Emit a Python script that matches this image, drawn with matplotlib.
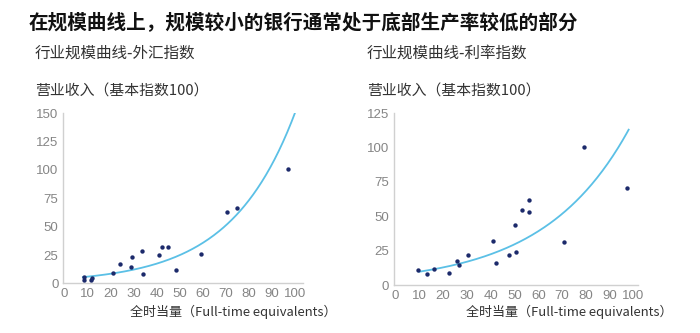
import numpy as np
import matplotlib
matplotlib.use("Agg")
import matplotlib.pyplot as plt

plt.rcParams['font.family'] = ['Noto Sans CJK SC', 'DejaVu Sans']
plt.rcParams['axes.unicode_minus'] = False

# 外汇指数：全时当量 vs 营业收入
fx_fte = [8.5, 8.5, 11.5, 12.0, 21.0, 24.0, 29.0, 29.3, 33.5, 34.2,
          41.2, 42.5, 45.0, 48.3, 59.4, 70.5, 74.9, 97.1]
fx_rev = [5.9, 2.9, 3.0, 4.5, 9.4, 17.4, 14.7, 23.0, 28.5, 8.5,
          25.3, 32.4, 31.8, 11.8, 26.2, 63.0, 66.5, 100.9]

# 利率指数：全时当量 vs 营业收入
ir_fte = [9.5, 13.2, 16.3, 22.6, 25.9, 26.6, 30.4, 41.0, 42.2, 47.5,
          50.1, 50.6, 53.0, 56.1, 56.1, 70.8, 79.2, 97.2]
ir_rev = [10.9, 7.8, 11.9, 9.0, 17.7, 14.8, 21.6, 32.3, 16.3, 21.6,
          43.4, 24.3, 54.4, 53.4, 61.7, 31.1, 100.5, 70.9]

# 指数趋势线参数 y = a * exp(b * x)，以及趋势线的起止
fx_trend = (4.13, 0.0359, 8.0, 100.0)
ir_trend = (7.34, 0.0279, 10.0, 98.0)

x_ticks = list(range(0, 101, 10))
fx_yticks = [0, 25, 50, 75, 100, 125, 150]
ir_yticks = [0, 25, 50, 75, 100, 125]

DOT = '#1c2a6b'
LINE = '#5bc0e6'
TICK = '#858585'
SPINE = '#d0d0d0'
TEXT = '#333333'

fig = plt.figure(figsize=(7.0, 3.33), dpi=100)


def draw_panel(rect, xs, ys, trend, yticks, xlim):
    ax = fig.add_axes(rect)
    a, b, x0, x1 = trend
    tx = np.linspace(x0, x1, 200)
    ax.plot(tx, a * np.exp(b * tx), color=LINE, lw=1.3)
    ax.scatter(xs, ys, s=10, color=DOT, zorder=3, linewidths=0)
    ax.set_xlim(*xlim)
    ax.set_ylim(0, yticks[-1])
    ax.set_xticks(x_ticks)
    ax.set_yticks(yticks)
    for s in ('top', 'right'):
        ax.spines[s].set_visible(False)
    for s in ('left', 'bottom'):
        ax.spines[s].set_color(SPINE)
        ax.spines[s].set_linewidth(1.0)
    ax.tick_params(length=0, colors=TICK, labelsize=9.5, pad=3.5)
    for lbl in ax.get_xticklabels() + ax.get_yticklabels():
        lbl.set_family('Liberation Sans')
    return ax


draw_panel([0.0905, 0.149, 0.342, 0.511], fx_fte, fx_rev, fx_trend,
           fx_yticks, (-0.5, 103.5))
draw_panel([0.563, 0.144, 0.349, 0.516], ir_fte, ir_rev, ir_trend,
           ir_yticks, (-0.6, 102.1))

fig.text(0.041, 0.931, '在规模曲线上，规模较小的银行通常处于底部生产率较低的部分',
         fontsize=14.1, fontweight='bold', color='#111111', va='center')

for x, sub in [(0.05, '行业规模曲线-外汇指数'), (0.524, '行业规模曲线-利率指数')]:
    fig.text(x, 0.841, sub, fontsize=11.2, color=TEXT, va='center')
    fig.text(x, 0.725, '营业收入（基本指数100）', fontsize=10.7, color=TEXT,
             va='center')

for x in (0.481, 0.96):
    fig.text(x, 0.063, '全时当量（Full-time equivalents）', fontsize=9.4,
             color=TEXT, ha='right', va='center')

fig.savefig('out.png', dpi=100, facecolor='white')
